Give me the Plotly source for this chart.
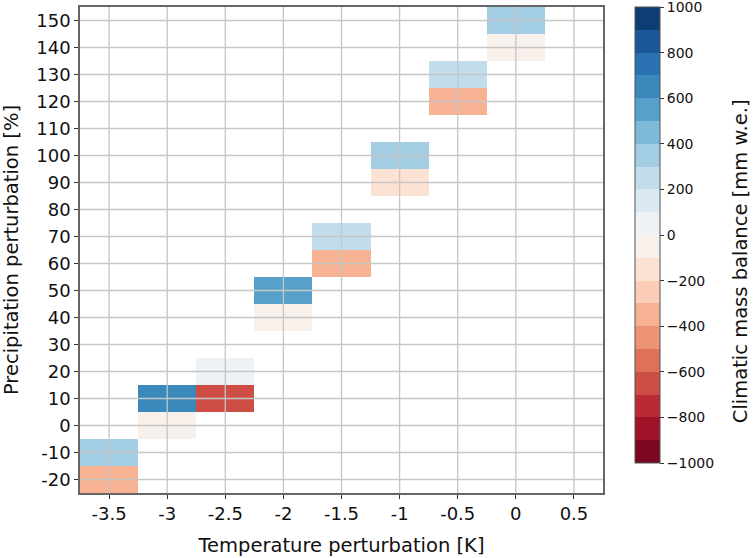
import plotly.graph_objects as go
from plotly.colors import sample_colorscale

# Data
temp_ticks = [-3.5, -3, -2.5, -2, -1.5, -1, -0.5, 0, 0.5]
temp_labels = ["-3.5", "-3", "-2.5", "-2", "-1.5", "-1", "-0.5", "0", "0.5"]
precip_ticks = list(range(-20, 151, 10))
precip_labels = [str(v) for v in precip_ticks]

cell_temp = [-3.5, -3.5, -3, -3, -2.5, -2.5, -2, -2, -1.5, -1.5, -1, -1, -0.5, -0.5, 0, 0]
cell_precip = [-10, -20, 10, 0, 20, 10, 50, 40, 70, 60, 100, 90, 130, 120, 150, 140]
cell_cmb = [350, -350, 650, -50, 50, -650, 550, -50, 250, -350, 350, -150, 250, -350, 350, -50]

cb_ticks = [999.99, 800, 600, 400, 200, 0, -200, -400, -600, -800, -999.99]
cb_labels = ["1000", "800", "600", "400", "200", "0", "\u2212200", "\u2212400", "\u2212600", "\u2212800", "\u22121000"]

# Build grid
z = [[None for _ in temp_ticks] for _ in precip_ticks]
for t, p, v in zip(cell_temp, cell_precip, cell_cmb):
    z[precip_ticks.index(p)][temp_ticks.index(t)] = v

# Discrete RdBu colorscale with 20 bins
nb = 20
cols = sample_colorscale("RdBu", [(i + 0.5) / nb for i in range(nb)])
cscale = []
for i, c in enumerate(cols):
    cscale.append([i / nb, c])
    cscale.append([(i + 1) / nb, c])

FONT = "DejaVu Sans"
TXT = "#111111"

fig = go.Figure()
fig.add_trace(go.Heatmap(
    x=temp_ticks, y=precip_ticks, z=z,
    zmin=-1000, zmax=1000, colorscale=cscale,
    hoverongaps=False,
    colorbar=dict(
        x=1.061, xanchor="left", y=1, yanchor="top",
        len=456 / 486, lenmode="fraction", thickness=25,
        xpad=0, ypad=0,
        outlinecolor="#555555", outlinewidth=1,
        tickvals=cb_ticks, ticktext=cb_labels, ticklabeloverflow="allow",
        ticks="outside", ticklen=4, tickcolor="#333333",
        tickfont=dict(family=FONT, size=14, color=TXT),
    ),
))

# Colorbar title
fig.add_annotation(
    text="Climatic mass balance [mm w.e.]", textangle=-90,
    xref="paper", yref="paper", x=1.262, y=0.477,
    xanchor="center", yanchor="middle", showarrow=False,
    font=dict(family=FONT, size=19.5, color=TXT),
)

# Gridlines drawn above the cells
grid_style = dict(color="#c6c6c6", width=1.3)
for t in temp_ticks:
    fig.add_shape(type="line", xref="x", yref="paper", x0=t, x1=t, y0=0, y1=1,
                  line=grid_style, layer="above")
for p in precip_ticks:
    fig.add_shape(type="line", xref="paper", yref="y", x0=0, x1=1, y0=p, y1=p,
                  line=grid_style, layer="above")

axis_common = dict(
    showgrid=False, zeroline=False, showline=True, linecolor="#666666", linewidth=1.5,
    mirror=True, ticks="outside", ticklen=4, tickcolor="#333333", automargin=False,
    tickfont=dict(family=FONT, size=18, color=TXT),
)
fig.update_xaxes(range=[-3.75, 0.75], tickvals=temp_ticks, ticktext=temp_labels,
                 title=dict(text="Temperature perturbation [K]", standoff=15,
                            font=dict(family=FONT, size=19.5, color=TXT)),
                 **axis_common)
fig.update_yaxes(range=[-25, 155], tickvals=precip_ticks, ticktext=precip_labels,
                 title=dict(text="Precipitation perturbation [%]", standoff=13,
                            font=dict(family=FONT, size=19.5, color=TXT)),
                 **axis_common)

fig.update_layout(
    width=754, height=558,
    margin=dict(l=80, r=151, t=7, b=65),
    plot_bgcolor="white", paper_bgcolor="white",
)

fig.write_html("out.html", config={"displayModeBar": False},
               post_script="document.body.style.margin='0px';")
